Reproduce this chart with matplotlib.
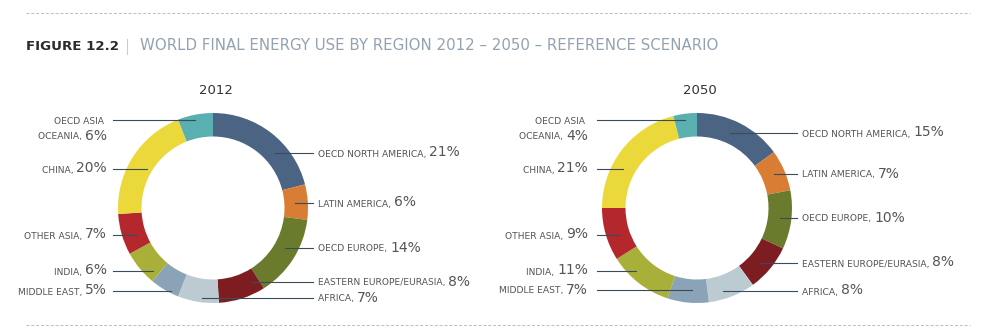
import numpy as np
import matplotlib.pyplot as plt

# data
regions = ['OECD NORTH AMERICA', 'LATIN AMERICA', 'OECD EUROPE', 'EASTERN EUROPE/EURASIA',
           'AFRICA', 'MIDDLE EAST', 'INDIA', 'OTHER ASIA', 'CHINA', 'OECD ASIA OCEANIA']
share_2012 = [21, 6, 14, 8, 7, 5, 6, 7, 20, 6]
share_2050 = [15, 7, 10, 8, 8, 7, 11, 9, 21, 4]
colors = ['#4b6483', '#d97d34', '#6b7b2d', '#7e1d21', '#bccbd2',
          '#8aa3b7', '#a9b03a', '#b3272d', '#ebd93b', '#5aafb0']

W, H = 982, 333
fig = plt.figure(figsize=(W / 100, H / 100), dpi=100)
ax = fig.add_axes([0, 0, 1, 1])

def Y(y):
    # image pixel row -> data y (y up)
    return H - y

# layout of the two donuts: center, label rows and leader ends per region
charts = [
    dict(year='2012', values=share_2012, cx=213, cy=208,
         label_y=[153, 203, 248, 282, 298, 291, 271, 235, 169, 120],
         tip_x=[275, 295, 285, 252, 202, 171, 153, 136, 147, 195],
         right_x=318, left_x=107, line_r=313, line_l=113),
    dict(year='2050', values=share_2050, cx=697, cy=208,
         label_y=[133, 174, 218, 263, 291, 290, 271, 235, 169, 120],
         tip_x=[730, 774, 780, 760, 723, 692, 636, 619, 623, 685],
         right_x=802, left_x=588, line_r=797, line_l=597),
]

R = 95
ring = 23.5
small = 6.6
big = 10
txt_col = '#555555'
line_col = '#3a4b5c'

renderer = fig.canvas.get_renderer()

def width_of(t):
    return t.get_window_extent(renderer=renderer).width

for c in charts:
    ax.pie(c['values'], colors=colors, startangle=90, counterclock=False,
           radius=R, center=(c['cx'], Y(c['cy'])),
           wedgeprops=dict(width=ring, edgecolor='none', linewidth=0), frame=True)
    ax.text(c['cx'] + 3, Y(91), c['year'], ha='center', va='center',
            fontsize=9.5, color='#333333')

    for i, name in enumerate(regions):
        y = c['label_y'][i]
        pct = '%d%%' % c['values'][i]
        if i < 5:
            ax.plot([c['tip_x'][i], c['line_r']], [Y(y), Y(y)], color=line_col, lw=0.8)
            t1 = ax.text(c['right_x'], Y(y + 3.5), name + ', ', ha='left', va='baseline',
                         fontsize=small, color=txt_col)
            ax.text(c['right_x'] + width_of(t1), Y(y + 3.5), pct, ha='left', va='baseline',
                    fontsize=big, color=txt_col)
        else:
            ax.plot([c['line_l'], c['tip_x'][i]], [Y(y), Y(y)], color=line_col, lw=0.8)
            if name == 'OECD ASIA OCEANIA':
                ax.text(c['left_x'] - 3, Y(y + 3.5), 'OECD ASIA', ha='right', va='baseline',
                        fontsize=small, color=txt_col)
                y = y + 16
                name = 'OCEANIA'
            t2 = ax.text(c['left_x'], Y(y + 3.5), pct, ha='right', va='baseline',
                         fontsize=big, color=txt_col)
            ax.text(c['left_x'] - width_of(t2), Y(y + 3.5), name + ', ', ha='right',
                    va='baseline', fontsize=small, color=txt_col)

# title
t = ax.text(26, Y(50), 'FIGURE 12.2', ha='left', va='baseline', fontsize=9.6,
            fontweight='bold', color='#2b2b2b')
xb = 26 + width_of(t) + 8
ax.plot([xb, xb], [Y(39), Y(54)], color='#cccccc', lw=0.8)
ax.text(140, Y(50), 'WORLD FINAL ENERGY USE BY REGION 2012 \u2013 2050 \u2013 REFERENCE SCENARIO',
        ha='left', va='baseline', fontsize=10.8, color='#93a2b1')

# dashed rules
for yy in (13, 325):
    ax.plot([26, 970], [Y(yy), Y(yy)], color='#bbbbbb', lw=0.7, ls=(0, (3, 2)))

ax.set_xlim(0, W)
ax.set_ylim(0, H)
ax.set_aspect('auto')
ax.axis('off')

fig.savefig('out.png', dpi=100)
